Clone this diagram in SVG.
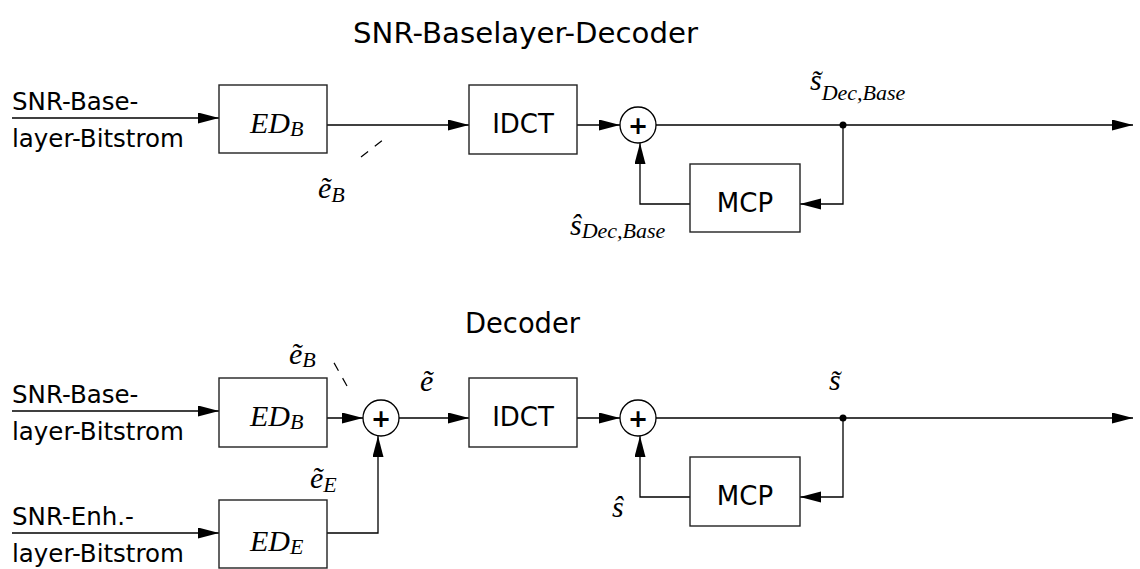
<svg xmlns="http://www.w3.org/2000/svg" width="1140" height="569" viewBox="0 0 1140 569">
<style>
.t{font-family:"DejaVu Sans",sans-serif;font-size:28.5px;fill:#000}
.l{font-family:"DejaVu Sans",sans-serif;font-size:24.5px;fill:#000}
.b{font-family:"DejaVu Sans",sans-serif;font-size:26px;fill:#000;text-anchor:middle}
.p{font-family:"DejaVu Sans",sans-serif;font-size:24px;font-weight:bold;fill:#000;text-anchor:middle}
.m{font-family:"Liberation Serif",serif;font-style:italic;font-size:30px;fill:#000}
.s{font-size:22px}
.box{fill:#fff;stroke:#222;stroke-width:1.4}
.sum{fill:#fff;stroke:#000;stroke-width:1.3}
.w{fill:none;stroke:#000;stroke-width:1.3}
.a{marker-end:url(#ah)}
.d{fill:none;stroke:#000;stroke-width:1.2;stroke-dasharray:9 8.5}
</style>
<defs>
<marker id="ah" markerUnits="userSpaceOnUse" markerWidth="22" markerHeight="12" refX="21" refY="5.5" orient="auto">
<path d="M0,0 L21,5.5 L0,11 z" fill="#000"/>
</marker>
</defs>
<rect width="1140" height="569" fill="#fff"/>

<text class="t" x="353" y="43" textLength="345" lengthAdjust="spacingAndGlyphs">SNR-Baselayer-Decoder</text>
<text class="t" x="465" y="333" textLength="115" lengthAdjust="spacingAndGlyphs">Decoder</text>

<g id="connectors">
<!-- top -->
<line class="w a" x1="12" y1="118" x2="219" y2="118"/>
<line class="w a" x1="327" y1="125" x2="469" y2="125"/>
<line class="w a" x1="577" y1="125" x2="620" y2="125"/>
<line class="w a" x1="656" y1="125" x2="1133" y2="125"/>
<polyline class="w a" points="843,125 843,204 800,204"/>
<polyline class="w a" points="690,204 640,204 640,143"/>
<circle cx="843" cy="125" r="3.5" fill="#000"/>
<line class="d" x1="361" y1="157" x2="384" y2="139"/>
<!-- bottom -->
<line class="w a" x1="12" y1="411" x2="219" y2="411"/>
<line class="w a" x1="12" y1="533" x2="219" y2="533"/>
<line class="w a" x1="327" y1="418" x2="363" y2="418"/>
<polyline class="w a" points="327,533 378,533 378,436"/>
<line class="w a" x1="399" y1="418" x2="469" y2="418"/>
<line class="w a" x1="577" y1="418" x2="620" y2="418"/>
<line class="w a" x1="656" y1="418" x2="1133" y2="418"/>
<polyline class="w a" points="843,418 843,497 800,497"/>
<polyline class="w a" points="690,497 640,497 640,436"/>
<circle cx="843" cy="418" r="3.5" fill="#000"/>
<line class="d" x1="347" y1="386" x2="333" y2="361"/>
</g>

<g id="labels">
<text class="l" x="12" y="110">SNR-Base-</text>
<text class="l" x="12" y="147">layer-Bitstrom</text>
<text class="l" x="12" y="403">SNR-Base-</text>
<text class="l" x="12" y="440">layer-Bitstrom</text>
<text class="l" x="12" y="525">SNR-Enh.-</text>
<text class="l" x="12" y="562">layer-Bitstrom</text>
<text class="m" x="318" y="198">ẽ<tspan class="s" dy="4">B</tspan></text>
<text class="m" x="810" y="90">s&#x303;<tspan class="s" dy="10">Dec,Base</tspan></text>
<text class="m" x="570" y="235">ŝ<tspan class="s" dy="3">Dec,Base</tspan></text>
<text class="m" x="289" y="364">ẽ<tspan class="s" dy="3">B</tspan></text>
<text class="m" x="420" y="391">ẽ</text>
<text class="m" x="310" y="488">ẽ<tspan class="s" dy="4">E</tspan></text>
<text class="m" x="829" y="390">s&#x303;</text>
<text class="m" x="612" y="517">ŝ</text>
</g>

<g id="edb1"><rect class="box" x="219" y="85" width="108" height="68"/><text class="m" x="250" y="133">ED<tspan class="s" dy="3">B</tspan></text></g>
<g id="idct1"><rect class="box" x="469" y="85" width="108" height="69"/><text class="b" x="523" y="133">IDCT</text></g>
<g id="sum1"><circle class="sum" cx="638" cy="125" r="18"/><text class="p" x="638" y="134">+</text></g>
<g id="mcp1"><rect class="box" x="690" y="164" width="110" height="68"/><text class="b" x="745" y="212">MCP</text></g>

<g id="edb2"><rect class="box" x="219" y="378" width="108" height="69"/><text class="m" x="250" y="426">ED<tspan class="s" dy="3">B</tspan></text></g>
<g id="ede2"><rect class="box" x="219" y="500" width="108" height="68"/><text class="m" x="250" y="551">ED<tspan class="s" dy="3">E</tspan></text></g>
<g id="sum2"><circle class="sum" cx="381" cy="418" r="18"/><text class="p" x="381" y="427">+</text></g>
<g id="idct2"><rect class="box" x="469" y="378" width="108" height="69"/><text class="b" x="523" y="426">IDCT</text></g>
<g id="sum3"><circle class="sum" cx="638" cy="418" r="18"/><text class="p" x="638" y="427">+</text></g>
<g id="mcp2"><rect class="box" x="690" y="457" width="110" height="69"/><text class="b" x="745" y="505">MCP</text></g>
</svg>
